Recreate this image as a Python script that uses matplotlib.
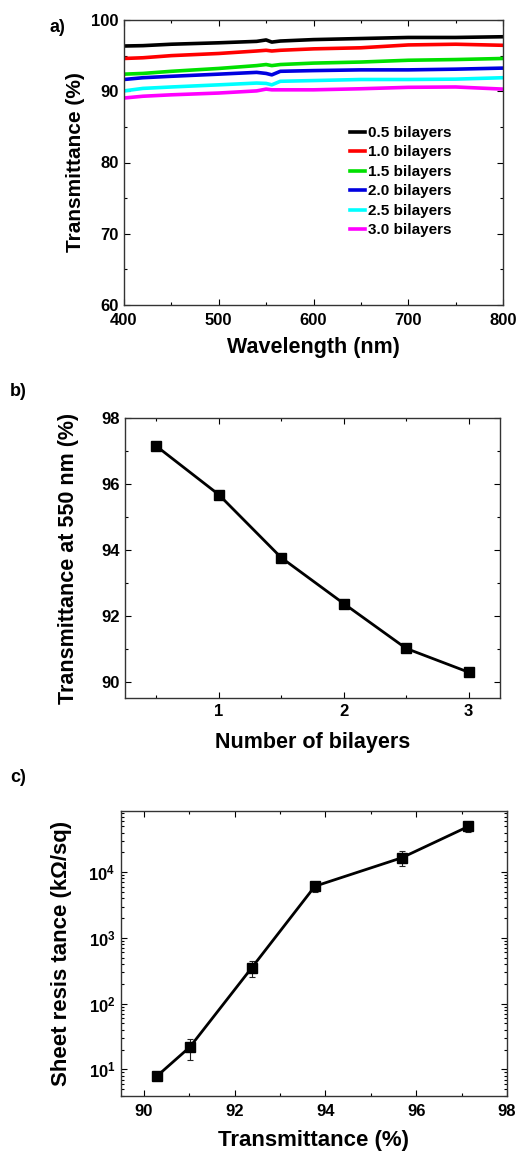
import numpy as np
import matplotlib
matplotlib.use("Agg")
import matplotlib.pyplot as plt
from matplotlib.ticker import MultipleLocator, LogLocator, NullFormatter

plt.rcParams['font.family'] = ['Liberation Sans', 'DejaVu Sans']
plt.rcParams['font.weight'] = 'bold'

# a) transmittance spectra
wavelength = [400, 420, 450, 500, 540, 550, 556, 565, 600, 650, 700, 750, 800]
spectra = {
    '0.5 bilayers': [96.35, 96.4, 96.6, 96.8, 97.0, 97.2, 96.9, 97.05, 97.25, 97.4, 97.55, 97.55, 97.65],
    '1.0 bilayers': [94.6, 94.7, 95.0, 95.3, 95.65, 95.75, 95.65, 95.75, 95.95, 96.1, 96.5, 96.6, 96.45],
    '1.5 bilayers': [92.4, 92.5, 92.8, 93.2, 93.6, 93.75, 93.6, 93.75, 93.95, 94.1, 94.35, 94.45, 94.6],
    '2.0 bilayers': [91.65, 91.9, 92.1, 92.4, 92.65, 92.5, 92.3, 92.8, 92.9, 93.0, 93.0, 93.1, 93.25],
    '2.5 bilayers': [90.05, 90.4, 90.6, 90.9, 91.15, 91.1, 90.9, 91.4, 91.5, 91.65, 91.65, 91.7, 91.9],
    '3.0 bilayers': [89.05, 89.3, 89.5, 89.75, 90.05, 90.3, 90.2, 90.2, 90.2, 90.35, 90.55, 90.6, 90.3],
}
colors = ['black', 'red', '#00e000', '#0000e0', 'cyan', 'magenta']

# b) transmittance at 550 nm
bilayers = [0.5, 1.0, 1.5, 2.0, 2.5, 3.0]
t550 = [97.15, 95.68, 93.77, 92.38, 91.02, 90.3]

# c) sheet resistance vs transmittance
trans = [90.3, 91.02, 92.38, 93.77, 95.68, 97.15]
rs = [8, 22, 352, 6100, 16500, 49500]
rs_low = [7, 14, 255, 5000, 12500, 41000]
rs_high = [9, 29.5, 440, 7000, 21000, 58000]

fig = plt.figure(figsize=(5.17, 11.51), dpi=100)
W, H = 517, 1151

def box(l, t, r, b):
    return [l / W, 1 - b / H, (r - l) / W, (b - t) / H]

def style(ax):
    ax.tick_params(which='both', direction='in', top=True, right=True, labelsize=12, pad=4)
    ax.tick_params(which='major', length=4, width=0.8)
    ax.tick_params(which='minor', length=2.5, width=0.8)
    for s in ax.spines.values():
        s.set_linewidth(1.0)
        s.set_color('#333333')
    for lab in ax.get_xticklabels() + ax.get_yticklabels():
        lab.set_fontweight('bold')

# panel a
ax1 = fig.add_axes(box(124, 20, 503, 305))
for (name, vals), c in zip(spectra.items(), colors):
    ax1.plot(wavelength, vals, color=c, lw=2.6, label=name)
ax1.set_xlim(400, 800)
ax1.set_ylim(60, 100)
ax1.xaxis.set_major_locator(MultipleLocator(100))
ax1.xaxis.set_minor_locator(MultipleLocator(50))
ax1.yaxis.set_major_locator(MultipleLocator(10))
ax1.yaxis.set_minor_locator(MultipleLocator(5))
style(ax1)
ax1.tick_params(axis='x', pad=6)
ax1.set_xlabel('Wavelength (nm)', fontsize=15.5, fontweight='bold', labelpad=6)
ax1.set_ylabel('Transmittance (%)', fontsize=15, fontweight='bold', labelpad=4)
ax1.legend(loc='upper left', bbox_to_anchor=(0.58, 0.65), frameon=False,
           handlelength=1.0, handletextpad=0.2, labelspacing=0.36,
           prop={'size': 11, 'weight': 'bold'}, borderaxespad=0)
fig.text(50 / W, 1 - 28 / H, 'a)', fontsize=13, fontweight='bold', va='center')

# panel b
ax2 = fig.add_axes(box(125, 418, 500, 698))
ax2.plot(bilayers, t550, '-s', color='black', lw=2, markersize=7.5)
ax2.set_xlim(0.25, 3.25)
ax2.set_ylim(89.52, 98)
ax2.xaxis.set_major_locator(MultipleLocator(1))
ax2.xaxis.set_minor_locator(MultipleLocator(0.5))
ax2.yaxis.set_major_locator(MultipleLocator(2))
ax2.yaxis.set_minor_locator(MultipleLocator(1))
style(ax2)
ax2.set_xlabel('Number of bilayers', fontsize=15.5, fontweight='bold', labelpad=10)
ax2.set_ylabel('Transmittance at 550 nm (%)', fontsize=15.5, fontweight='bold', labelpad=16)
fig.text(10 / W, 1 - 392 / H, 'b)', fontsize=13, fontweight='bold', va='center')

# panel c
ax3 = fig.add_axes(box(121, 811, 507, 1096))
err = [np.array(rs) - np.array(rs_low), np.array(rs_high) - np.array(rs)]
ax3.errorbar(trans, rs, yerr=err, fmt='-s', color='black', lw=2, markersize=7.5,
             ecolor='#222222', elinewidth=0.8, capsize=2.5, capthick=0.8)
ax3.set_yscale('log')
ax3.set_xlim(89.5, 98)
ax3.set_ylim(3.94, 85000)
ax3.xaxis.set_major_locator(MultipleLocator(2))
ax3.xaxis.set_minor_locator(MultipleLocator(1))
ax3.yaxis.set_major_locator(LogLocator(base=10, numticks=10))
ax3.yaxis.set_minor_locator(LogLocator(base=10, subs=np.arange(2, 10), numticks=10))
ax3.yaxis.set_minor_formatter(NullFormatter())
style(ax3)
ax3.tick_params(axis='x', pad=6)
ax3.set_xlabel('Transmittance (%)', fontsize=16, fontweight='bold', labelpad=8)
ax3.set_ylabel('Sheet resis tance (k\u03a9/sq)', fontsize=16, fontweight='bold', labelpad=12)
fig.text(10 / W, 1 - 778 / H, 'c)', fontsize=13, fontweight='bold', va='center')

fig.savefig('out.png', dpi=100)
